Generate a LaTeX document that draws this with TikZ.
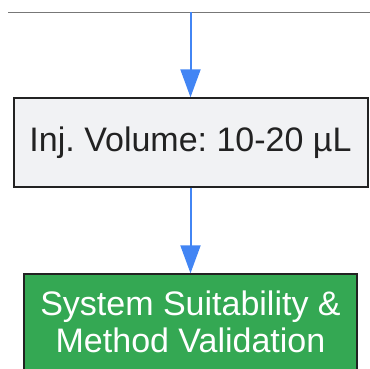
\documentclass[tikz,border=0pt]{standalone}
\usepackage{fontspec}
\setmainfont{Liberation Sans}
\usetikzlibrary{arrows.meta}
\definecolor{flowblue}{HTML}{4285F4}
\definecolor{boxgray}{HTML}{F1F2F4}
\definecolor{boxgreen}{HTML}{34A853}
\definecolor{boxline}{HTML}{222222}
\definecolor{rulegray}{HTML}{777777}
\frenchspacing
\newcommand{\boxfont}{\fontsize{34}{37}\selectfont}
\tikzset{
  flow/.style={draw=flowblue, line width=2pt, -{Triangle[length=28pt,width=20pt]}},
  stepbox/.style={draw=boxline, line width=2pt, font=\boxfont, align=center},
}

\begin{document}
\begin{tikzpicture}[x=1pt,y=-1pt]
    \useasboundingbox (0,0) rectangle (370,368);
    \draw[rulegray, line width=1pt] (8,12) -- (370,12);
    \coordinate (top) at (190.5,12);

    \node[stepbox, fill=boxgray, text=boxline, minimum width=354pt, minimum height=88.4pt] (inj) at (190.5,142.5) {Inj. Volume: 10-20 µL};
    \node[stepbox, fill=boxgreen, text=white, minimum width=332.4pt, inner ysep=17pt, anchor=north] (sst) at (190.5,273.3) {System Suitability \&\\Method Validation};

    \draw[flow] (top) -- (inj.north);
    \draw[flow] (inj.south) -- (sst.north);
\end{tikzpicture}
\end{document}
